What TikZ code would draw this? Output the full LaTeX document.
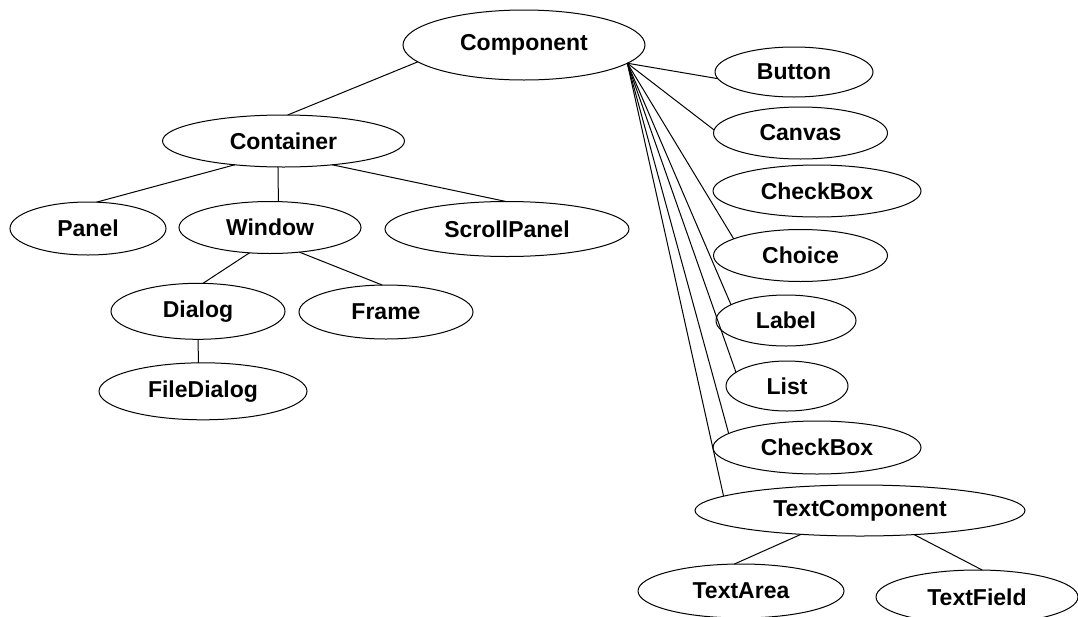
\documentclass[tikz,border=0pt]{standalone}
\usepackage{fontspec}
\setmainfont{Liberation Sans}
\usetikzlibrary{shapes.geometric}
\tikzset{
  cls/.style={ellipse, draw, line width=1pt, inner sep=0pt, outer sep=0pt,
    font=\fontsize{23}{26}\selectfont\bfseries},
  link/.style={line width=1pt}
}
\newcommand{\cnode}[6]{\node[cls, minimum width=#4pt, minimum height=#5pt] (#1) at (#2,#3) {#6};}
\begin{document}
\begin{tikzpicture}[x=1pt,y=-1pt]
\useasboundingbox (0,0) rectangle (1078,616);
\cnode{comp}{524}{45}{242}{70}{Component}
\cnode{cont}{283.5}{141}{242}{52}{Container}
\cnode{panel}{88}{228.5}{156}{53}{Panel}
\cnode{win}{270}{227.5}{182}{52}{Window}
\cnode{scroll}{507}{229}{244}{55}{ScrollPanel}
\cnode{dialog}{198}{311.3}{174}{56}{Dialog}
\cnode{frame}{386}{312}{174}{54}{Frame}
\cnode{filed}{203}{391.3}{208}{57}{FileDialog}
\cnode{button}{794}{72}{158}{50}{Button}
\cnode{canvas}{800.5}{133}{174}{52}{Canvas}
\cnode{checka}{817}{191}{208}{52}{CheckBox}
\cnode{choice}{800.5}{255.5}{174}{52}{Choice}
\cnode{label}{786}{320.5}{140}{51}{Label}
\cnode{list}{787}{386}{122}{50}{List}
\cnode{checkb}{817}{447.5}{208}{53}{CheckBox}
\cnode{tc}{860}{510.5}{330}{51}{TextComponent}
\cnode{tarea}{741}{591}{206}{54}{TextArea}
\cnode{tfield}{977}{597}{202}{54}{TextField}

\draw[link] (comp.189.9) -- (cont.81.5);
\draw[link] (cont.206.1) -- (panel.72.6);
\draw[link] (cont.258.1) -- (win.72.9);
\draw[link] (cont.334.7) -- (scroll.92);
\draw[link] (win.231.8) -- (dialog.80);
\draw[link] (win.320.5) -- (frame.98.7);
\draw[link] (dialog.270) -- (filed.99.9);

\draw[link] (comp.350.3) -- (button.185.9);
\draw[link] (comp.350.3) -- (canvas.178);
\draw[link] (comp.350.3) -- (choice.166.7);
\draw[link] (comp.350.3) -- (label.164.5);
\draw[link] (comp.350.3) -- (list.165.7);
\draw[link] (comp.350.3) -- (checkb.171);
\draw[link] (comp.350.3) -- (tc.174.8);

\draw[link] (tc.202.2) -- (tarea.104.5);
\draw[link] (tc.336.2) -- (tfield.79.3);
\end{tikzpicture}
\end{document}
